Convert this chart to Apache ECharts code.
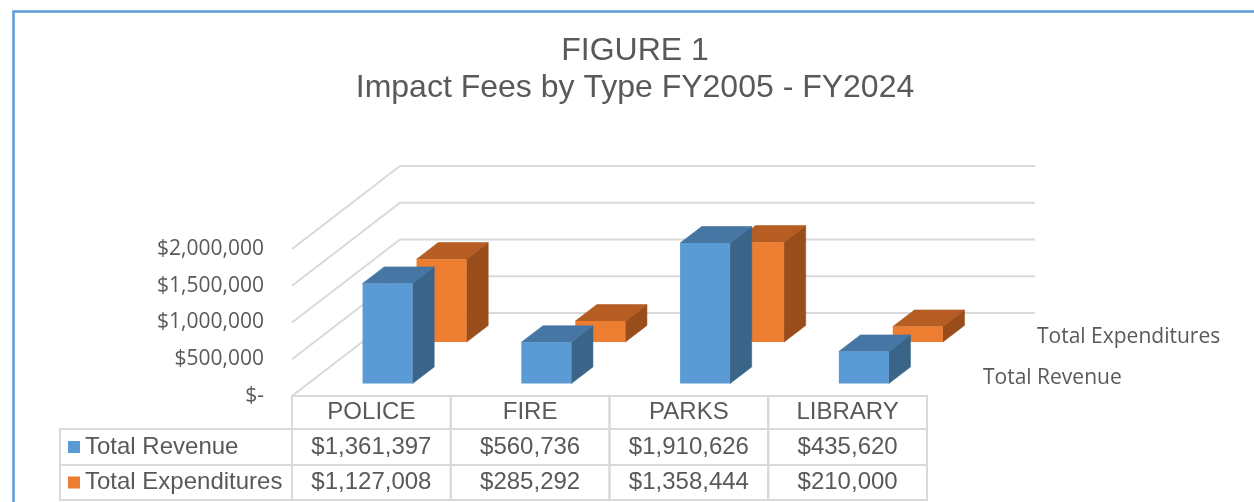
<!DOCTYPE html>
<html><head><meta charset="utf-8">
<script src="https://cdn.jsdelivr.net/npm/echarts@6/dist/echarts.min.js"></script>
<style>html,body{margin:0;padding:0;background:#fff}#c{width:1254px;height:502px}</style>
</head><body><div id="c"></div>
<script>
const titleLines = ['FIGURE 1', 'Impact Fees by Type FY2005 - FY2024'];
const categories = ['POLICE', 'FIRE', 'PARKS', 'LIBRARY'];
const seriesNames = ['Total Revenue', 'Total Expenditures'];
const revenue = [1361397, 560736, 1910626, 435620];
const expenditures = [1127008, 285292, 1358444, 210000];
const yTicks = [0, 500000, 1000000, 1500000, 2000000];

const TEXT = '#595959', GRIDC = '#D9D9D9';
const DX = 108, DY = -83;            // depth vector of the 3D floor (px)
const BLUE = { front: '#5B9BD5', top: '#4676A3', side: '#3A6488' };
const ORANGE = { front: '#ED7D31', top: '#B55D22', side: '#994D1B' };
const fmtMoney = v => v === 0 ? '$-' : '$' + Math.round(v).toLocaleString('en-US');

function txt(text, x, y, align, size, family) {
  return { type: 'text', style: { text: text, x: x, y: y, fill: TEXT,
    fontSize: size, fontFamily: family,
    align: align, verticalAlign: 'middle', textAlign: align, textVerticalAlign: 'middle' } };
}

function gridRender(params, api) {
  const v = api.value(1);
  const bw = api.size([1, 0])[0];
  const pl = api.coord([0, v]);
  const pr = api.coord([categories.length - 1, v]);
  const xl = pl[0] - bw / 2, xr = pr[0] + bw / 2, y = pl[1];
  return { type: 'polyline', shape: { points: [[xl, y], [xl + DX, y + DY], [xr + DX, y + DY]] },
    style: { stroke: GRIDC, lineWidth: 2, fill: null } };
}

function barRenderer(col, f, name) {
  return function (params, api) {
    const i = api.value(0), v = api.value(1);
    const base = api.coord([i, 0]), tp = api.coord([i, v]);
    const bw = api.size([1, 0])[0];
    const w = bw * 0.315;
    const ox = f * DX, oy = f * DY, dx = 0.2 * DX, dy = 0.2 * DY;
    const x0 = base[0] - w / 2 + ox, x1 = x0 + w;
    const yb = base[1] + oy, yt = tp[1] + oy;
    const children = [
      { type: 'polygon', shape: { points: [[x1, yt], [x1 + dx, yt + dy], [x1 + dx, yb + dy], [x1, yb]] },
        style: { fill: col.side, stroke: col.side, lineWidth: 0.6 } },
      { type: 'polygon', shape: { points: [[x0, yt], [x1, yt], [x1 + dx, yt + dy], [x0 + dx, yt + dy]] },
        style: { fill: col.top, stroke: col.top, lineWidth: 0.6 } },
      { type: 'rect', shape: { x: x0, y: yt, width: w, height: yb - yt },
        style: { fill: col.front } }
    ];
    if (params.dataIndex === categories.length - 1) {
      const fc = f + 0.1;
      children.push(txt(name, base[0] + bw / 2 + fc * DX + 29, base[1] + fc * DY + 3, 'left', 21, 'Open Sans'));
    }
    return { type: 'group', children: children };
  };
}

function cell(x, y, w, h) {
  return { type: 'rect', shape: { x: x, y: y, width: w, height: h },
    style: { fill: null, stroke: GRIDC, lineWidth: 2 } };
}

function tableRender(params, api) {
  const i = api.value(0);
  const base = api.coord([i, 0]);
  const bw = api.size([1, 0])[0];
  const xl = base[0] - bw / 2, xc = base[0];
  const y0 = base[1];
  const h = [33, 36, 35];
  const F = 'Liberation Sans';
  const ch = [
    cell(xl, y0, bw, h[0]),
    cell(xl, y0 + h[0], bw, h[1]),
    cell(xl, y0 + h[0] + h[1], bw, h[2]),
    txt(categories[i], xc, y0 + h[0] / 2, 'center', 24, F),
    txt(fmtMoney(api.value(1)), xc, y0 + h[0] + h[1] / 2, 'center', 24, F),
    txt(fmtMoney(api.value(2)), xc, y0 + h[0] + h[1] + h[2] / 2, 'center', 24, F)
  ];
  if (i === 0) {
    const lx = xl - 232;
    const r1 = y0 + h[0] + h[1] / 2, r2 = y0 + h[0] + h[1] + h[2] / 2;
    ch.push(cell(lx, y0 + h[0], 232, h[1]));
    ch.push(cell(lx, y0 + h[0] + h[1], 232, h[2]));
    ch.push({ type: 'rect', shape: { x: lx + 8, y: r1 - 6, width: 12, height: 12 }, style: { fill: BLUE.front } });
    ch.push({ type: 'rect', shape: { x: lx + 8, y: r2 - 6, width: 12, height: 12 }, style: { fill: ORANGE.front } });
    ch.push(txt(seriesNames[0], lx + 25, r1, 'left', 24, F));
    ch.push(txt(seriesNames[1], lx + 25, r2, 'left', 24, F));
  }
  return { type: 'group', children: ch };
}

const chart = echarts.init(document.getElementById('c'), null, { renderer: 'canvas' });
chart.setOption({
  animation: false,
  backgroundColor: '#ffffff',
  title: {
    text: titleLines.join('\n'), left: 630, top: 28, textAlign: 'center',
    textStyle: { fontFamily: 'Liberation Sans', fontSize: 32, fontWeight: 'normal', color: TEXT, lineHeight: 37 }
  },
  graphic: [{ type: 'rect', left: 11, top: 9, z: 100,
    shape: { x: 0, y: 0, width: 1400, height: 700 },
    style: { fill: null, stroke: '#5B9BD5', lineWidth: 2.5 } }],
  grid: { left: 292, right: 327, top: 249, bottom: 106, containLabel: false },
  xAxis: { type: 'category', data: categories, boundaryGap: true,
    axisLine: { show: false }, axisTick: { show: false }, axisLabel: { show: false }, splitLine: { show: false } },
  yAxis: { type: 'value', min: yTicks[0], max: yTicks[yTicks.length - 1], interval: yTicks[1] - yTicks[0],
    axisLine: { show: false }, axisTick: { show: false }, splitLine: { show: false },
    axisLabel: { margin: 28, color: TEXT, fontFamily: 'Open Sans', fontSize: 21, formatter: fmtMoney } },
  series: [
    { type: 'custom', name: 'grid', renderItem: gridRender, data: yTicks.map(v => [0, v]), z: 1, silent: true },
    { type: 'custom', name: seriesNames[1], renderItem: barRenderer(ORANGE, 0.65, seriesNames[1]),
      data: expenditures.map((v, i) => [i, v]), z: 2 },
    { type: 'custom', name: seriesNames[0], renderItem: barRenderer(BLUE, 0.15, seriesNames[0]),
      data: revenue.map((v, i) => [i, v]), z: 3 },
    { type: 'custom', name: 'table', renderItem: tableRender,
      data: categories.map((c, i) => [i, revenue[i], expenditures[i]]),
      encode: { x: 0, y: 1 }, z: 4, silent: true }
  ]
});
</script></body></html>
